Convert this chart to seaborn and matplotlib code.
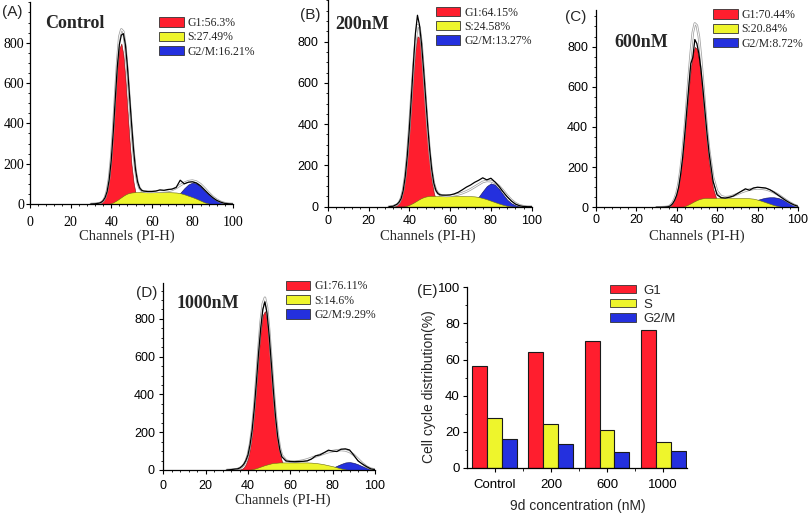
import matplotlib
matplotlib.use("Agg")
import matplotlib.pyplot as plt
import pandas as pd
import seaborn as sns
from matplotlib.patches import Patch
from matplotlib.ticker import MultipleLocator

sns.set_theme(style="ticks")
plt.rcParams["font.family"] = ["Liberation Sans", "DejaVu Sans"]
SERIF = ["Liberation Serif", "DejaVu Serif"]
SANS = ["Liberation Sans", "DejaVu Sans"]

# ---------------- data ----------------
CH = [30, 32, 34, 35, 36, 37, 38, 39, 40, 41, 42, 43, 44, 45, 46, 47, 48, 49, 50, 51, 52, 53, 54, 55, 56,
      58, 60, 62, 64, 66, 68, 70, 72, 74, 76, 78, 80, 82, 84, 86, 88, 90, 92, 94, 96, 98, 100]

A_G1 = [0, 0, 2, 5, 14, 33, 72, 138, 240, 376, 530, 673, 771, 796, 740, 620, 468, 318, 195, 108, 54, 24, 10, 4, 1,
        0, 0, 0, 0, 0, 0, 0, 0, 0, 0, 0, 0, 0, 0, 0, 0, 0, 0, 0, 0, 0, 0]
A_S = [0, 0, 0, 0, 0, 0, 0, 1, 4, 8, 14, 20, 27, 34, 41, 47, 52, 55, 57, 58, 59, 59, 60, 60, 60,
       60, 60, 60, 60, 60, 59, 58, 57, 54, 48, 41, 34, 26, 17, 8, 2, 0, 0, 0, 0, 0, 0]
A_G2M = [0, 0, 0, 0, 0, 0, 0, 0, 0, 0, 0, 0, 0, 0, 0, 0, 0, 0, 0, 0, 0, 0, 0, 0, 0,
         0, 0, 0, 0, 5, 9, 18, 34, 55, 78, 97, 106, 101, 85, 64, 46, 30, 17, 8, 3, 1, 0]
A_DATA = [0, 1, 4, 8, 16, 32, 62, 120, 215, 355, 520, 680, 790, 838, 845, 790, 680, 540, 400, 270, 170, 110, 80, 68, 64,
          62, 62, 64, 70, 68, 72, 74, 82, 118, 100, 108, 110, 104, 90, 70, 50, 32, 18, 9, 3, 1, 0]
A_FIT = [0, 1, 3, 7, 15, 33, 68, 130, 230, 375, 545, 710, 830, 866, 855, 780, 660, 520, 380, 260, 165, 105, 78, 66, 62,
         60, 60, 61, 62, 63, 65, 70, 80, 93, 105, 113, 116, 111, 98, 78, 56, 36, 21, 10, 4, 1, 0]

B_G1 = [0, 1, 8, 18, 39, 78, 142, 236, 360, 505, 648, 764, 826, 819, 745, 621, 475, 334, 214, 127, 68, 34, 15, 6, 2,
        0, 0, 0, 0, 0, 0, 0, 0, 0, 0, 0, 0, 0, 0, 0, 0, 0, 0, 0, 0, 0, 0]
B_S = [0, 0, 0, 0, 0, 0, 2, 5, 9, 14, 19, 25, 31, 37, 42, 46, 49, 51, 52, 52, 52, 52, 52, 52, 52,
       52, 52, 52, 52, 52, 51, 51, 50, 47, 42, 36, 29, 22, 15, 9, 4, 1, 0, 0, 0, 0, 0]
B_G2M = [0, 0, 0, 0, 0, 0, 0, 0, 0, 0, 0, 0, 0, 0, 0, 0, 0, 0, 0, 0, 0, 0, 0, 0, 0,
         0, 0, 0, 0, 2, 5, 12, 26, 48, 75, 100, 113, 107, 86, 59, 34, 17, 7, 2, 1, 0, 0]
B_DATA = [0, 2, 12, 22, 40, 78, 145, 245, 375, 530, 690, 840, 928, 880, 790, 665, 530, 395, 275, 180, 115, 80, 64, 58, 56,
          56, 57, 62, 70, 82, 95, 105, 118, 128, 140, 130, 138, 120, 98, 72, 48, 28, 13, 5, 1, 0, 0]
B_FIT = [0, 2, 10, 20, 42, 82, 150, 250, 380, 530, 675, 800, 880, 870, 790, 660, 520, 380, 265, 175, 115, 82, 66, 58, 54,
         52, 53, 56, 60, 66, 74, 84, 96, 108, 120, 125, 124, 116, 100, 78, 54, 33, 17, 7, 2, 0, 0]

C_G1 = [0, 0, 1, 2, 5, 11, 21, 40, 69, 114, 177, 260, 361, 474, 587, 689, 762, 798, 789, 737, 650, 543, 428, 318, 224,
        94, 31, 8, 2, 0, 0, 0, 0, 0, 0, 0, 0, 0, 0, 0, 0, 0, 0, 0, 0, 0, 0]
C_S = [0, 0, 0, 0, 0, 0, 0, 0, 0, 0, 1, 3, 6, 10, 15, 20, 26, 31, 36, 40, 43, 45, 46, 46, 46,
       46, 46, 46, 46, 46, 46, 46, 46, 46, 45, 43, 38, 32, 25, 18, 11, 6, 2, 0, 0, 0, 0]
C_G2M = [0, 0, 0, 0, 0, 0, 0, 0, 0, 0, 0, 0, 0, 0, 0, 0, 0, 0, 0, 0, 0, 0, 0, 0, 0,
         0, 0, 0, 0, 0, 0, 5, 9, 15, 22, 30, 37, 43, 48, 50, 50, 47, 40, 30, 20, 11, 4]
C_DATA = [0, 0, 1, 2, 3, 8, 18, 35, 60, 100, 165, 250, 360, 480, 600, 715, 745, 835, 815, 765, 690, 590, 480, 370, 275,
          130, 62, 48, 46, 50, 56, 68, 80, 92, 85, 96, 100, 98, 96, 88, 76, 62, 48, 34, 22, 12, 5]
C_FIT = [0, 0, 1, 2, 4, 10, 22, 42, 72, 120, 190, 280, 390, 515, 650, 770, 870, 915, 905, 850, 750, 630, 500, 385, 290,
         150, 80, 55, 50, 52, 58, 66, 75, 82, 88, 92, 94, 93, 90, 84, 75, 64, 50, 36, 23, 12, 5]

D_G1 = [0, 0, 0, 1, 2, 5, 13, 30, 61, 114, 197, 311, 451, 601, 733, 820, 841, 792, 684, 541, 393, 261, 160, 90, 46,
        9, 1, 0, 0, 0, 0, 0, 0, 0, 0, 0, 0, 0, 0, 0, 0, 0, 0, 0, 0, 0, 0]
D_S = [0, 0, 0, 0, 0, 0, 0, 0, 1, 2, 4, 7, 10, 14, 18, 22, 26, 29, 32, 35, 37, 38, 39, 40, 40,
       40, 40, 40, 40, 40, 40, 39, 37, 34, 30, 25, 20, 14, 8, 3, 0, 0, 0, 0, 0, 0, 0]
D_G2M = [0, 0, 0, 0, 0, 0, 0, 0, 0, 0, 0, 0, 0, 0, 0, 0, 0, 0, 0, 0, 0, 0, 0, 0, 0,
         0, 0, 0, 0, 0, 0, 0, 0, 0, 3, 6, 12, 22, 32, 40, 42, 38, 30, 20, 11, 4, 1]
D_DATA = [0, 2, 5, 6, 10, 18, 30, 50, 80, 135, 215, 330, 470, 620, 750, 850, 890, 830, 715, 570, 420, 285, 180, 110, 70,
          48, 45, 44, 45, 46, 48, 58, 75, 80, 92, 105, 100, 98, 110, 112, 106, 78, 48, 32, 18, 6, 2]
D_FIT = [0, 1, 3, 5, 9, 16, 28, 48, 82, 138, 222, 340, 490, 645, 785, 880, 912, 860, 740, 590, 435, 300, 195, 120, 78,
         50, 44, 44, 46, 50, 56, 64, 72, 80, 88, 95, 100, 104, 106, 104, 96, 80, 58, 36, 18, 7, 2]

CONC = ["Control", "200", "600", "1000"]
G1_PCT = [56.3, 64.15, 70.44, 76.11]
S_PCT = [27.49, 24.58, 20.84, 14.6]
G2M_PCT = [16.21, 13.27, 8.72, 9.29]
PHASES = ["G1", "S", "G2/M"]
TITLES = ["Control", "200nM", "600nM", "1000nM"]
LETTERS = ["(A)", "(B)", "(C)", "(D)", "(E)"]
XTICKS_H = [0, 20, 40, 60, 80, 100]
YTICKS_H = [0, 200, 400, 600, 800]
YTICKS_E = [0, 20, 40, 60, 80, 100]

RED = "#FF1E2E"
YELLOW = "#EEF52C"
BLUE = "#2430DE"

# ---------------- figure ----------------
W, H = 810, 516
fig = plt.figure(figsize=(W / 100, H / 100), dpi=100)


def fx(x):
    return x / W


def fy(y):
    return 1 - y / H


def axes_px(left, right, y_zero, y_top):
    return fig.add_axes([fx(left), fy(y_zero), (right - left) / W, (y_zero - y_top) / H])


# layout of the four histogram panels (pixels)
LAYOUT = [
    dict(rect=(30, 233, 204, 2.4), tfont=SERIF, tsize=10, xpad=5.5, ypad=1.0,
         title=(45, 28), letter=(2, 16), xlabel=(127, 240), legend=(159, 17)),
    dict(rect=(327.7, 531.7, 206.7, 0.4), tfont=SANS, tsize=9, xpad=3.0, ypad=3.5,
         title=(335, 29), letter=(300, 19.5), xlabel=(428, 240), legend=(435.7, 6.5)),
    dict(rect=(595.7, 798, 207.3, 10), tfont=SANS, tsize=9, xpad=1.5, ypad=2.5,
         title=(614, 47), letter=(565, 20.5), xlabel=(697, 240), legend=(713, 9)),
    dict(rect=(163.3, 375, 470, 283), tfont=SANS, tsize=9, xpad=4.5, ypad=3.0,
         title=(176.7, 308), letter=(136, 297.5), xlabel=(282.5, 503.5), legend=(285.7, 280.5)),
]
SERIES = [
    (A_G1, A_S, A_G2M, A_DATA, A_FIT),
    (B_G1, B_S, B_G2M, B_DATA, B_FIT),
    (C_G1, C_S, C_G2M, C_DATA, C_FIT),
    (D_G1, D_S, D_G2M, D_DATA, D_FIT),
]
YMAX = [1000, 1000, 982, 990]

for i, (lay, ser) in enumerate(zip(LAYOUT, SERIES)):
    g1, s, g2, data, fit = ser
    left, right, y0, ytop = lay["rect"]
    ax = axes_px(left, right, y0, ytop)
    ax.set_facecolor("white")
    ax.fill_between(CH, g1, color=RED, lw=0.4, edgecolor="#7a1010")
    ax.fill_between(CH, g2, color=BLUE, lw=0.4, edgecolor="#10105a")
    ax.fill_between(CH, s, color=YELLOW, lw=0.4, edgecolor="#6a6a10")
    sns.lineplot(x=CH, y=fit, color="#a0a0a0", lw=1.8, ax=ax, estimator=None, sort=False)
    sns.lineplot(x=CH, y=fit, color="white", lw=0.7, ax=ax, estimator=None, sort=False)
    sns.lineplot(x=CH, y=data, color="black", lw=0.9, ax=ax, estimator=None, sort=False)
    ax.set_xlim(0, 100)
    ax.set_ylim(0, YMAX[i])
    ax.set_xticks(XTICKS_H)
    ax.set_yticks(YTICKS_H)
    ax.xaxis.set_minor_locator(MultipleLocator(4))
    ax.yaxis.set_minor_locator(MultipleLocator(50))
    for sp in ("top", "right"):
        ax.spines[sp].set_visible(False)
    for sp in ("left", "bottom"):
        ax.spines[sp].set_linewidth(0.9)
        ax.spines[sp].set_color("black")
    ax.tick_params(axis="both", which="major", direction="out", length=3, width=0.8, color="black")
    ax.tick_params(axis="both", which="minor", direction="out", length=1.6, width=0.6, color="black")
    ax.tick_params(axis="x", pad=lay["xpad"])
    ax.tick_params(axis="y", pad=lay["ypad"])
    for lab in ax.get_xticklabels() + ax.get_yticklabels():
        lab.set_fontfamily(lay["tfont"])
        lab.set_fontsize(lay["tsize"])
        lab.set_color("black")
    ax.set_xlabel("")
    ax.set_ylabel("")

    tx, ty = lay["title"]
    fig.text(fx(tx), fy(ty), TITLES[i], family=SERIF, weight="bold", fontsize=13, va="baseline", ha="left")
    lx, ly = lay["letter"]
    fig.text(fx(lx), fy(ly), LETTERS[i], family=SANS, fontsize=11, va="baseline", ha="left")
    cx, cy = lay["xlabel"]
    fig.text(fx(cx), fy(cy), "Channels (PI-H)", family=SERIF, fontsize=10.5, va="baseline", ha="center")

    pct = [G1_PCT[i], S_PCT[i], G2M_PCT[i]]
    handles = [Patch(facecolor=c, edgecolor="#333333", lw=0.6) for c in (RED, YELLOW, BLUE)]
    labels = [f"{p}:{v}%" for p, v in zip(PHASES, pct)]
    gx, gy = lay["legend"]
    fig.legend(handles, labels, loc="upper left", bbox_to_anchor=(fx(gx), fy(gy)),
               bbox_transform=fig.transFigure, frameon=False, borderpad=0, borderaxespad=0,
               handlelength=2.1, handleheight=0.85, handletextpad=0.3, labelspacing=0.2,
               prop=dict(family=SERIF, size=8.5))

# ---------------- panel E: bar chart ----------------
axE = axes_px(466.7, 686.7, 468, 287.3)
dfE = pd.DataFrame({
    "conc": CONC * 3,
    "phase": [PHASES[0]] * 4 + [PHASES[1]] * 4 + [PHASES[2]] * 4,
    "pct": G1_PCT + S_PCT + G2M_PCT,
})
sns.barplot(data=dfE, x="conc", y="pct", hue="phase", order=CONC, hue_order=PHASES,
            palette=[RED, YELLOW, BLUE], saturation=1, width=0.8, edgecolor="#1a1a1a",
            linewidth=0.8, ax=axE, legend=False, errorbar=None)
axE.set_xlim(-0.5, 3.42)
axE.set_ylim(0, 100)
axE.set_yticks(YTICKS_E)
axE.yaxis.set_minor_locator(MultipleLocator(10))
axE.set_xticks([0, 1, 2, 3])
axE.set_xticks([0.5, 1.5, 2.5], minor=True)
axE.set_xticklabels(CONC)
for sp in ("top", "right"):
    axE.spines[sp].set_visible(False)
for sp in ("left", "bottom"):
    axE.spines[sp].set_linewidth(0.9)
    axE.spines[sp].set_color("black")
axE.tick_params(axis="both", which="major", direction="out", length=3, width=0.8, color="black",
                labelsize=9.5, labelcolor="black")
axE.tick_params(axis="both", which="minor", direction="out", length=1.8, width=0.6, color="black")
axE.tick_params(axis="x", pad=5)
axE.tick_params(axis="y", pad=2)
axE.set_xlabel("")
axE.set_ylabel("")
fig.text(fx(429), fy(386.5), "Cell cycle distribution(%)", family=SANS, fontsize=10,
         rotation=90, va="center", ha="center")
fig.text(fx(577.5), fy(506), "9d concentration (nM)", family=SANS, fontsize=10, va="center", ha="center")
fig.text(fx(417), fy(295), LETTERS[4], family=SANS, fontsize=11, va="baseline", ha="left")

handlesE = [Patch(facecolor=c, edgecolor="#333333", lw=0.6) for c in (RED, YELLOW, BLUE)]
fig.legend(handlesE, PHASES, loc="upper left", bbox_to_anchor=(fx(610), fy(284.5)),
           bbox_transform=fig.transFigure, frameon=False, borderpad=0, borderaxespad=0,
           handlelength=2.0, handleheight=0.6, handletextpad=0.55, labelspacing=0.18,
           prop=dict(family=SANS, size=9.5))

fig.savefig("out.png", dpi=100, facecolor="white")
